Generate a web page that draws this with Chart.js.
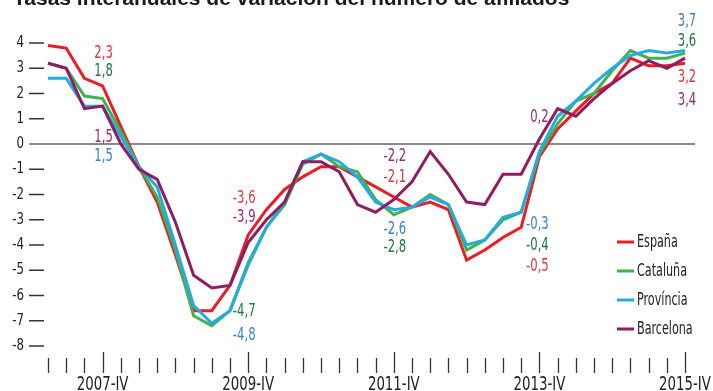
<!DOCTYPE html>
<html>
<head>
<meta charset="utf-8">
<script src="https://cdn.jsdelivr.net/npm/chart.js@4.4.1/dist/chart.umd.min.js"></script>
<style>
  html, body { margin: 0; padding: 0; background: #fff; }
  canvas { display: block; }
</style>
</head>
<body>
<canvas id="afiliados" width="713" height="391"></canvas>
<script>
// quarters 2007-I .. 2015-IV
const years = [2007, 2008, 2009, 2010, 2011, 2012, 2013, 2014, 2015];
const quarters = ['I', 'II', 'III', 'IV'];
const categories = years.flatMap(y => quarters.map(q => y + '-' + q));

const yTicks = [4, 3, 2, 1, 0, -1, -2, -3, -4, -5, -6, -7, -8];
const xTickLabels = ['2007-IV', '2009-IV', '2011-IV', '2013-IV', '2015-IV'];

const espana = [3.9, 3.8, 2.6, 2.3, 0.7, -0.9, -2.3, -4.4, -6.6, -6.6, -5.6, -3.6,
                -2.6, -1.8, -1.3, -0.9, -0.9, -1.3, -1.7, -2.1, -2.5, -2.3, -2.6, -4.6,
                -4.2, -3.7, -3.3, -0.5, 0.6, 1.3, 2.0, 2.4, 3.4, 3.1, 3.1, 3.2];
const cataluna = [3.2, 3.0, 1.9, 1.8, 0.5, -0.9, -2.1, -4.2, -6.8, -7.2, -6.6, -4.7,
                  -3.3, -2.4, -0.8, -0.4, -0.9, -1.1, -2.2, -2.8, -2.5, -2.0, -2.4, -4.2,
                  -3.8, -3.0, -2.7, -0.4, 0.8, 1.7, 2.0, 2.9, 3.7, 3.4, 3.4, 3.6];
const provincia = [2.6, 2.6, 1.5, 1.5, 0.3, -0.9, -1.7, -4.0, -6.4, -7.1, -6.6, -4.8,
                   -3.3, -2.3, -0.7, -0.4, -0.7, -1.3, -2.3, -2.6, -2.5, -2.1, -2.4, -4.0,
                   -3.8, -2.9, -2.7, -0.3, 1.1, 1.7, 2.4, 3.0, 3.5, 3.7, 3.6, 3.7];
const barcelona = [3.2, 3.0, 1.4, 1.5, 0.0, -1.0, -1.4, -3.1, -5.2, -5.7, -5.6, -3.9,
                   -3.0, -2.3, -0.7, -0.7, -1.1, -2.4, -2.7, -2.2, -1.5, -0.3, -1.2, -2.3,
                   -2.4, -1.2, -1.2, 0.2, 1.4, 1.1, 1.8, 2.4, 2.9, 3.3, 3.0, 3.4];

const series = [
  { name: 'España',    values: espana,    line: '#ec1c24', text: '#e8323a' },
  { name: 'Cataluña',  values: cataluna,  line: '#3fb34f', text: '#177a3c' },
  { name: 'Província', values: provincia, line: '#27aae1', text: '#3b7fcf' },
  { name: 'Barcelona', values: barcelona, line: '#901c61', text: '#9a2a72' }
];

// value callouts: series index, quarter index, offset from the point
const callouts = [
  { s: 0, i: 3, dx: 1, dy: -33 }, { s: 1, i: 3, dx: 1, dy: -27 },
  { s: 3, i: 3, dx: 1, dy: 31 },  { s: 2, i: 3, dx: 1, dy: 50 },
  { s: 0, i: 11, dx: -4, dy: -37 }, { s: 3, i: 11, dx: -4, dy: -25 },
  { s: 1, i: 11, dx: -4, dy: 49 },  { s: 2, i: 11, dx: -4, dy: 70 },
  { s: 3, i: 19, dx: 1, dy: -43 }, { s: 0, i: 19, dx: 1, dy: -20 },
  { s: 2, i: 19, dx: 1, dy: 20 },  { s: 1, i: 19, dx: 1, dy: 33 },
  { s: 3, i: 27, dx: 0, dy: -22 },
  { s: 2, i: 27, dx: -2, dy: 73 }, { s: 1, i: 27, dx: -2, dy: 91 }, { s: 0, i: 27, dx: -2, dy: 110 },
  { s: 2, i: 35, dx: 2, dy: -29 }, { s: 1, i: 35, dx: 2, dy: -12 },
  { s: 0, i: 35, dx: 2, dy: 14 },  { s: 3, i: 35, dx: 2, dy: 42 }
];

const FONT = '"DejaVu Sans Condensed", "DejaVu Sans", sans-serif';
const fmt = v => v.toFixed(1).replace('.', ',');

// condensed text: squeeze horizontally around the anchor
function narrowText(ctx, text, x, y, size, sx, align, baseline) {
  ctx.save();
  ctx.font = size + 'px ' + FONT;
  ctx.textAlign = align;
  ctx.textBaseline = baseline;
  ctx.translate(x, y);
  ctx.scale(sx, 1);
  ctx.fillText(text, 0, 0);
  ctx.restore();
}

const decor = {
  id: 'decor',
  beforeDatasetsDraw(chart) {
    const ctx = chart.ctx;
    const x = chart.scales.x, y = chart.scales.y;
    const area = chart.chartArea;
    ctx.save();

    // title, partly above the canvas edge
    ctx.fillStyle = '#1a1a1a';
    ctx.font = 'bold 21px "Liberation Sans", sans-serif';
    ctx.textAlign = 'left';
    ctx.textBaseline = 'alphabetic';
    ctx.fillText('Tasas interanuales de variación del número de afiliados', 13, 5);

    // y axis: labels and dashes
    ctx.strokeStyle = '#333';
    ctx.lineWidth = 1.5;
    yTicks.forEach(t => {
      const py = y.getPixelForValue(t);
      ctx.fillStyle = '#222';
      narrowText(ctx, String(t), 24, py, 16, 0.82, 'right', 'middle');
      if (t !== 0) {
        ctx.beginPath();
        ctx.moveTo(29, py);
        ctx.lineTo(44, py);
        ctx.stroke();
      }
    });

    // zero line
    ctx.strokeStyle = '#8a8a8a';
    ctx.lineWidth = 2;
    ctx.beginPath();
    ctx.moveTo(29, y.getPixelForValue(0));
    ctx.lineTo(area.right + 10, y.getPixelForValue(0));
    ctx.stroke();

    // x axis: a tick per quarter, longer at each labelled quarter
    ctx.strokeStyle = '#333';
    ctx.lineWidth = 1.3;
    categories.forEach((c, i) => {
      const px = Math.round(x.getPixelForValue(i)) + 0.5;
      const tall = xTickLabels.includes(c);
      ctx.beginPath();
      ctx.moveTo(px, tall ? 352 : 358);
      ctx.lineTo(px, 373);
      ctx.stroke();
    });
    ctx.fillStyle = '#222';
    xTickLabels.forEach(l => {
      narrowText(ctx, l, x.getPixelForValue(categories.indexOf(l)), 376, 19, 0.78, 'center', 'top');
    });
    ctx.restore();
  },
  afterDatasetsDraw(chart) {
    const ctx = chart.ctx;
    const x = chart.scales.x, y = chart.scales.y;
    ctx.save();
    callouts.forEach(c => {
      const s = series[c.s];
      const v = s.values[c.i];
      ctx.fillStyle = s.text;
      narrowText(ctx, fmt(v), x.getPixelForValue(c.i) + c.dx, y.getPixelForValue(v) + c.dy,
                 18, 0.72, 'center', 'middle');
    });

    // legend
    series.forEach((s, k) => {
      const ly = 242 + k * 29;
      ctx.strokeStyle = s.line;
      ctx.lineWidth = 3;
      ctx.beginPath();
      ctx.moveTo(617, ly);
      ctx.lineTo(634, ly);
      ctx.stroke();
      ctx.fillStyle = '#222';
      narrowText(ctx, s.name, 637, ly, 18, 0.69, 'left', 'middle');
    });
    ctx.restore();
  }
};

new Chart(document.getElementById('afiliados'), {
  type: 'line',
  data: {
    labels: categories,
    datasets: series.map((s, k) => ({
      label: s.name,
      data: s.values,
      borderColor: s.line,
      borderWidth: 3,
      pointRadius: 0,
      tension: 0,
      fill: false,
      clip: false,
      order: series.length - k
    }))
  },
  options: {
    responsive: false,
    animation: false,
    layout: { padding: { left: 48, right: 28, top: 43, bottom: 45 } },
    plugins: { legend: { display: false }, tooltip: { enabled: false } },
    scales: {
      x: { type: 'category', display: false, offset: false },
      y: { display: false, min: -8, max: 4 }
    }
  },
  plugins: [decor]
});
</script>
</body>
</html>
